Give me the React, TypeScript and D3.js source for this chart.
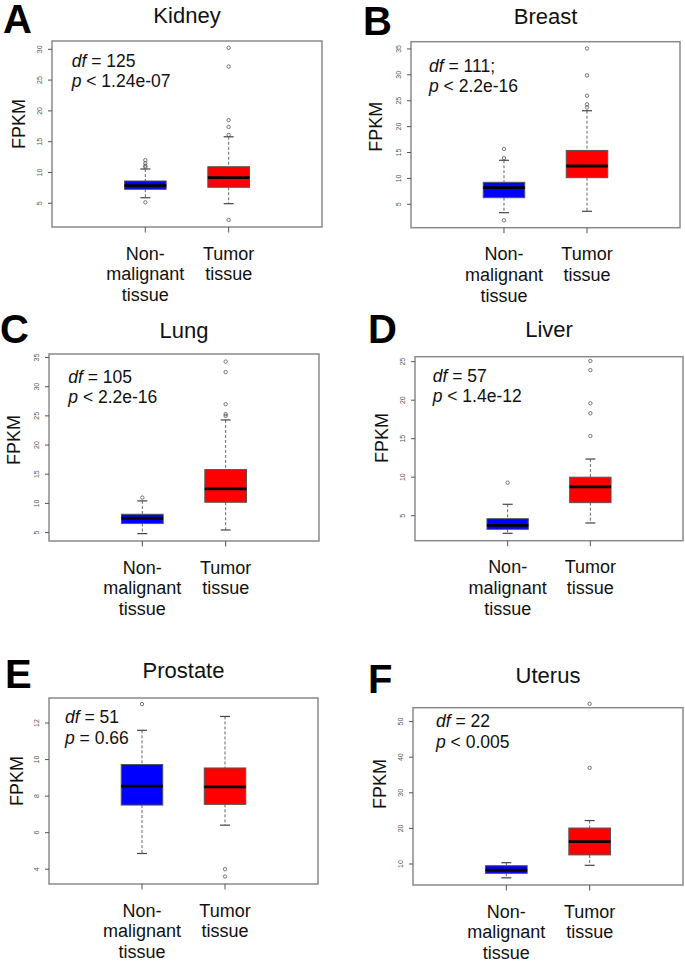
import React from "react";
import * as d3 from "d3";

// ---------- data ----------
const tissues = ["Kidney", "Breast", "Lung", "Liver", "Prostate", "Uterus"];
const panelLetters = ["A", "B", "C", "D", "E", "F"];
const dfTexts = [" = 125", " = 111;", " = 105", " = 57", " = 51", " = 22"];
const pTexts = [" < 1.24e-07", " < 2.2e-16", " < 2.2e-16", " < 1.4e-12", " = 0.66", " < 0.005"];
const groupLines = [["Non-", "malignant", "tissue"], ["Tumor", "tissue"]];
const groupPositions = [1, 2];

// [lower whisker, Q1, median, Q3, upper whisker]
const normalStats = [
  [5.9, 7.27, 7.86, 8.62, 10.57],
  [3.38, 6.27, 8.2, 9.25, 13.5],
  [4.83, 6.55, 7.46, 8.14, 10.43],
  [2.71, 3.23, 3.75, 4.61, 6.48],
  [4.86, 7.51, 8.55, 9.73, 11.6],
  [6.12, 7.37, 8.3, 9.52, 10.37],
];
const tumorStats = [
  [4.94, 7.6, 9.16, 10.94, 15.8],
  [3.65, 10.14, 12.4, 15.4, 23.07],
  [5.45, 10.2, 12.5, 15.8, 24.3],
  [4.05, 6.69, 8.73, 10.0, 12.36],
  [6.41, 7.55, 8.51, 9.54, 12.36],
  [9.63, 12.55, 16.3, 20.1, 22.2],
];
const normalOutliers = [
  [12.0, 11.5, 11.1, 10.9, 5.15],
  [15.7, 13.9, 1.9],
  [11.0],
  [9.29],
  [13.04],
  [],
];
const tumorOutliers = [
  [30.25, 27.2, 18.5, 17.4, 16.1, 2.3],
  [35.1, 29.9, 25.97, 24.3, 23.7],
  [34.3, 32.5, 27.0, 25.3, 25.0],
  [25.1, 23.9, 19.6, 18.3, 15.35],
  [4.0, 3.6],
  [55.0, 37.0],
];
const yTicks = [
  [5, 10, 15, 20, 25, 30],
  [5, 10, 15, 20, 25, 30, 35],
  [5, 10, 15, 20, 25, 30, 35],
  [5, 10, 15, 20, 25],
  [4, 6, 8, 10, 12],
  [10, 20, 30, 40, 50],
];
const yDomains = [
  [1.15, 31.35],
  [0.48, 36.4],
  [3.56, 35.6],
  [1.75, 25.65],
  [3.19, 13.37],
  [4.1, 53.9],
];
const xDomain = [-0.12, 3.12];

// ---------- layout ----------
const plotBoxes = [
  [52, 322, 41, 227],
  [411, 680, 41.7, 227.7],
  [49, 319, 354, 541],
  [415, 683, 356.7, 540.7],
  [49, 318, 698, 884],
  [413, 683, 707.7, 885],
];
const titleBaselines = [23.3, 24, 338.3, 337.3, 678, 682.7];
const letterPos = [[3, 33], [363, 35], [0, 343], [368, 343], [5, 688], [368, 693]];
const statPos = [[71.7, 66.7], [429, 71.7], [68.3, 382.7], [432.7, 381.7], [65, 723.3], [436, 727.3]];
const ylabPos = [[18.3, 124], [376, 126.7], [14, 440], [382, 438], [17, 781], [380, 784]];

const FONT = "'Liberation Sans', Arial, Helvetica, sans-serif";
const fills = ["#0000ff", "#ff0000"];

function Panel({ i }: { i: number }) {
  const [x0, x1, y0, y1] = plotBoxes[i];
  const x = d3.scaleLinear().domain(xDomain).range([x0, x1]);
  const y = d3.scaleLinear().domain(yDomains[i]).range([y1, y0]);
  const halfBox = 0.25;
  const halfStaple = 0.06;
  const groups = [
    { stats: normalStats[i], out: normalOutliers[i] },
    { stats: tumorStats[i], out: tumorOutliers[i] },
  ];
  const cx = (x0 + x1) / 2;
  return (
    <g>
      <text x={letterPos[i][0]} y={letterPos[i][1]} fontSize={40} fontWeight="bold" fontFamily={FONT} fill="#000">
        {panelLetters[i]}
      </text>
      <text x={cx} y={titleBaselines[i]} fontSize={22} fontFamily={FONT} textAnchor="middle" fill="#111">
        {tissues[i]}
      </text>
      {/* y label */}
      <text
        transform={`translate(${ylabPos[i][0]},${ylabPos[i][1]}) rotate(-90)`}
        dy="0.36em"
        fontSize={18}
        fontFamily={FONT}
        textAnchor="middle"
        fill="#111"
      >
        FPKM
      </text>
      {/* boxes */}
      {groups.map((g, k) => {
        const c = groupPositions[k];
        const [lo, q1, med, q3, hi] = g.stats;
        return (
          <g key={k}>
            <line x1={x(c)} x2={x(c)} y1={y(hi)} y2={y(q3)} stroke="#666" strokeWidth={1} strokeDasharray="3,2" />
            <line x1={x(c)} x2={x(c)} y1={y(q1)} y2={y(lo)} stroke="#666" strokeWidth={1} strokeDasharray="3,2" />
            <line x1={x(c - halfStaple)} x2={x(c + halfStaple)} y1={y(hi)} y2={y(hi)} stroke="#444" strokeWidth={1.2} />
            <line x1={x(c - halfStaple)} x2={x(c + halfStaple)} y1={y(lo)} y2={y(lo)} stroke="#444" strokeWidth={1.2} />
            <rect
              x={x(c - halfBox)}
              y={y(q3)}
              width={x(c + halfBox) - x(c - halfBox)}
              height={y(q1) - y(q3)}
              fill={fills[k]}
              stroke="#555"
              strokeWidth={1}
            />
            <line x1={x(c - halfBox)} x2={x(c + halfBox)} y1={y(med)} y2={y(med)} stroke="#000" strokeWidth={2.8} />
            {g.out.map((v, j) => (
              <circle key={j} cx={x(c)} cy={y(v)} r={1.7} fill="none" stroke="#555" strokeWidth={0.8} />
            ))}
          </g>
        );
      })}
      {/* frame */}
      <rect x={x0} y={y0} width={x1 - x0} height={y1 - y0} fill="none" stroke="#8a8a8a" strokeWidth={1.5} />
      {/* y ticks */}
      {yTicks[i].map((t) => (
        <g key={t}>
          <line x1={x0 - 4} x2={x0} y1={y(t)} y2={y(t)} stroke="#555" strokeWidth={1} />
          <text
            transform={`translate(${x0 - 12.5},${y(t)}) rotate(-90)`}
            dy="0.35em"
            fontSize={7}
            fontFamily={FONT}
            textAnchor="middle"
            fill="#555"
          >
            {t}
          </text>
        </g>
      ))}
      {/* x ticks and labels */}
      {groupPositions.map((c, k) => (
        <g key={c}>
          <line x1={x(c)} x2={x(c)} y1={y1} y2={y1 + 5.5} stroke="#555" strokeWidth={1} />
          {groupLines[k].map((ln, j) => (
            <text
              key={j}
              x={x(c)}
              y={y1 + 32.5 + j * 20.7}
              fontSize={18}
              fontFamily={FONT}
              textAnchor="middle"
              fill="#111"
            >
              {ln}
            </text>
          ))}
        </g>
      ))}
      {/* statistics */}
      <text x={statPos[i][0]} y={statPos[i][1]} fontSize={17.5} fontFamily={FONT} fill="#111">
        <tspan fontStyle="italic">df</tspan>
        <tspan>{dfTexts[i]}</tspan>
      </text>
      <text x={statPos[i][0]} y={statPos[i][1] + 20.5} fontSize={17.5} fontFamily={FONT} fill="#111">
        <tspan fontStyle="italic">p</tspan>
        <tspan>{pTexts[i]}</tspan>
      </text>
    </g>
  );
}

export default function App() {
  return (
    <svg
      width={685}
      height={961}
      viewBox="0 0 685 961"
      style={{ position: "absolute", left: 0, top: 0, background: "#fff" }}
    >
      <rect x={0} y={0} width={685} height={961} fill="#fff" />
      {tissues.map((_, i) => (
        <Panel key={i} i={i} />
      ))}
    </svg>
  );
}
